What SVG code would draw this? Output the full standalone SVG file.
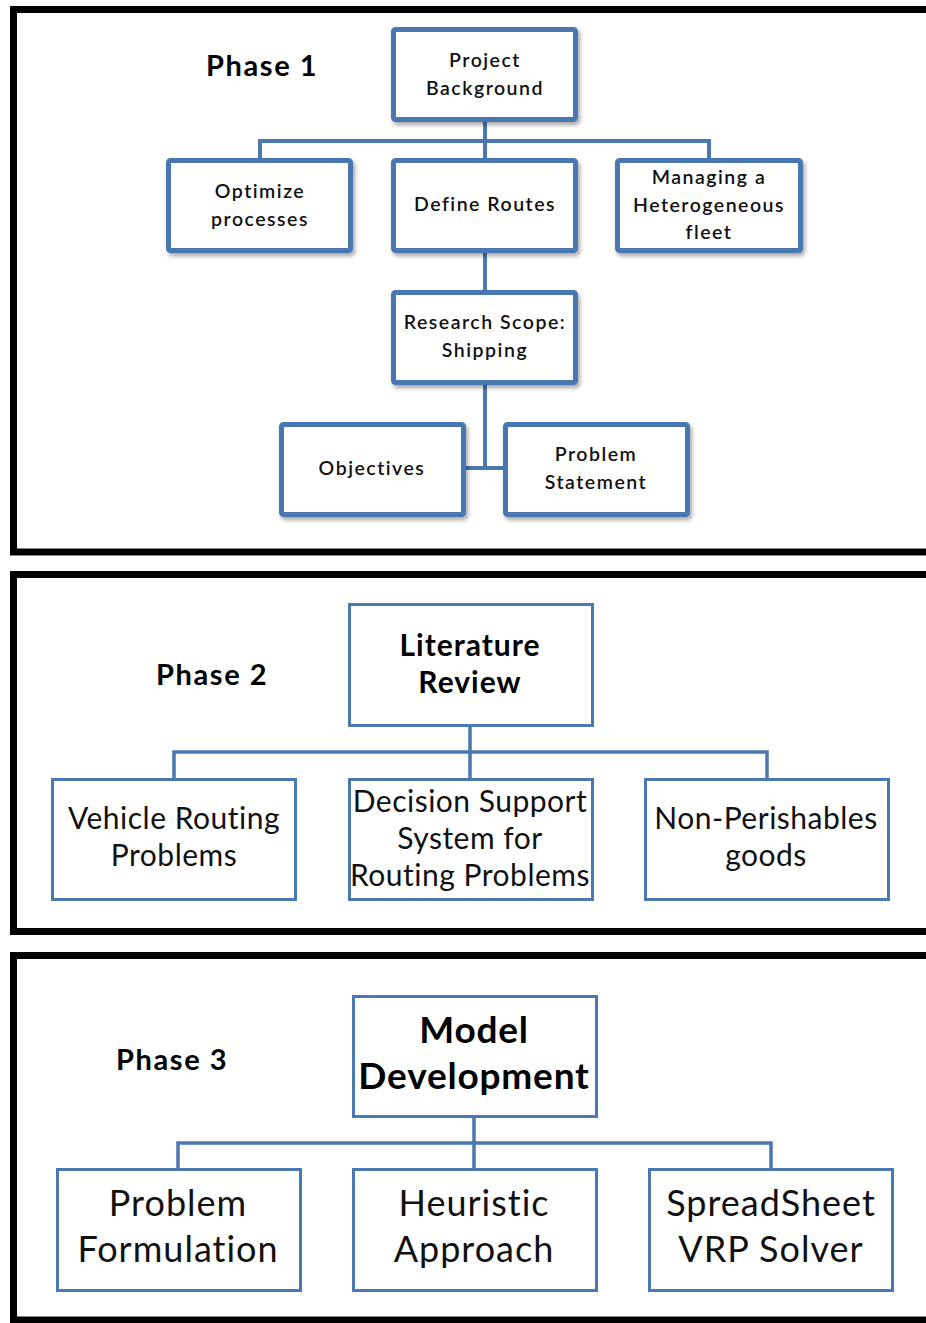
<svg xmlns="http://www.w3.org/2000/svg" width="926" height="1323" viewBox="0 0 926 1323">
  <defs>
    <filter id="shadow" x="-10%" y="-10%" width="125%" height="130%">
      <feDropShadow dx="2" dy="3" stdDeviation="2" flood-color="#000" flood-opacity="0.35"/>
    </filter>
    <style>
      .frame { fill: none; stroke: #000; stroke-width: 7; }
      .phase { font-family: Lato, "Open Sans", sans-serif; font-weight: 700; font-size: 29px; letter-spacing: 1.6px; fill: #000; }
      .b1 { fill: #fff; stroke: #4a78b0; stroke-width: 5; filter: url(#shadow); }
      .b2 { fill: #fff; stroke: #4a78b0; stroke-width: 3; }
      .t1 { font-family: Lato, "Open Sans", sans-serif; font-size: 19.5px; font-weight: 600; letter-spacing: 1.5px; text-anchor: middle; fill: #111; }
      .t2 { font-family: Lato, "Open Sans", sans-serif; font-size: 30px; letter-spacing: 0.5px; text-anchor: middle; fill: #111; }
      .t2b { font-family: Lato, "Open Sans", sans-serif; font-size: 30px; font-weight: 700; letter-spacing: 1px; text-anchor: middle; fill: #000; }
      .t3 { font-family: Lato, "Open Sans", sans-serif; font-size: 36px; letter-spacing: 1px; text-anchor: middle; fill: #111; }
      .t3b { font-family: Lato, "Open Sans", sans-serif; font-size: 37px; font-weight: 700; letter-spacing: 0.8px; text-anchor: middle; fill: #000; }
      .c1 { fill: none; stroke: #4a78b0; stroke-width: 4; }
      .c2 { fill: none; stroke: #4a78b0; stroke-width: 3.5; }
    </style>
  </defs>

  <!-- phase frames (open to the right) -->
  <g id="frames">
    <path class="frame" d="M940 9.5 H13.5 V552 H940"/>
    <path class="frame" d="M940 574.5 H13.5 V931.5 H940"/>
    <path class="frame" d="M940 955.5 H13.5 V1320 H940"/>
  </g>

  <!-- connectors -->
  <g id="connectors">
    <path class="c1" d="M485 122 V158 M260 158 V141 H709 V158"/>
    <path class="c1" d="M485 253 V290"/>
    <path class="c1" d="M485 385 V468 M466 468 H503"/>
    <path class="c2" d="M470 726 V778 M174 778 V752 H767 V778"/>
    <path class="c2" d="M474 1117 V1168 M178 1168 V1143 H771 V1168"/>
  </g>

  <!-- Phase 1 -->
  <g id="phase1-label"><text class="phase" x="206" y="76">Phase 1</text></g>
  <g id="project-background">
    <rect class="b1" x="393.5" y="29.5" width="182" height="90" rx="2"/>
    <text class="t1" x="485" y="67">Project</text>
    <text class="t1" x="485" y="95">Background</text>
  </g>
  <g id="optimize-processes">
    <rect class="b1" x="168.5" y="160.5" width="182" height="90" rx="2"/>
    <text class="t1" x="260" y="198">Optimize</text>
    <text class="t1" x="260" y="226">processes</text>
  </g>
  <g id="define-routes">
    <rect class="b1" x="393.5" y="160.5" width="182" height="90" rx="2"/>
    <text class="t1" x="485" y="211">Define Routes</text>
  </g>
  <g id="heterogeneous-fleet">
    <rect class="b1" x="617.5" y="160.5" width="183" height="90" rx="2"/>
    <text class="t1" x="709" y="184">Managing a</text>
    <text class="t1" x="709" y="212">Heterogeneous</text>
    <text class="t1" x="709" y="239">fleet</text>
  </g>
  <g id="research-scope">
    <rect class="b1" x="393.5" y="292.5" width="182" height="90" rx="2"/>
    <text class="t1" x="485" y="329">Research Scope:</text>
    <text class="t1" x="485" y="357">Shipping</text>
  </g>
  <g id="objectives">
    <rect class="b1" x="281.5" y="424.5" width="182" height="90" rx="2"/>
    <text class="t1" x="372" y="475">Objectives</text>
  </g>
  <g id="problem-statement">
    <rect class="b1" x="505.5" y="424.5" width="182" height="90" rx="2"/>
    <text class="t1" x="596" y="461">Problem</text>
    <text class="t1" x="596" y="489">Statement</text>
  </g>

  <!-- Phase 2 -->
  <g id="phase2-label"><text class="phase" x="156" y="685">Phase 2</text></g>
  <g id="literature-review">
    <rect class="b2" x="349.5" y="604.5" width="243" height="121"/>
    <text class="t2b" x="470" y="656">Literature</text>
    <text class="t2b" x="470" y="693">Review</text>
  </g>
  <g id="vehicle-routing">
    <rect class="b2" x="52.5" y="779.5" width="243" height="120"/>
    <text class="t2" x="174" y="829">Vehicle Routing</text>
    <text class="t2" x="174" y="866">Problems</text>
  </g>
  <g id="decision-support">
    <rect class="b2" x="349.5" y="779.5" width="243" height="120"/>
    <text class="t2" x="470" y="812">Decision Support</text>
    <text class="t2" x="470" y="849">System for</text>
    <text class="t2" x="470" y="886">Routing Problems</text>
  </g>
  <g id="non-perishables">
    <rect class="b2" x="645.5" y="779.5" width="243" height="120"/>
    <text class="t2" x="766" y="829">Non-Perishables</text>
    <text class="t2" x="766" y="866">goods</text>
  </g>

  <!-- Phase 3 -->
  <g id="phase3-label"><text class="phase" x="116" y="1070">Phase 3</text></g>
  <g id="model-development">
    <rect class="b2" x="353.5" y="996.5" width="243" height="120"/>
    <text class="t3b" x="474" y="1043">Model</text>
    <text class="t3b" x="474" y="1089">Development</text>
  </g>
  <g id="problem-formulation">
    <rect class="b2" x="57.5" y="1169.5" width="243" height="121"/>
    <text class="t3" x="178" y="1216">Problem</text>
    <text class="t3" x="178" y="1262">Formulation</text>
  </g>
  <g id="heuristic-approach">
    <rect class="b2" x="353.5" y="1169.5" width="243" height="121"/>
    <text class="t3" x="474" y="1216">Heuristic</text>
    <text class="t3" x="474" y="1262">Approach</text>
  </g>
  <g id="spreadsheet-solver">
    <rect class="b2" x="649.5" y="1169.5" width="243" height="121"/>
    <text class="t3" x="771" y="1216">SpreadSheet</text>
    <text class="t3" x="771" y="1262">VRP Solver</text>
  </g>
</svg>
